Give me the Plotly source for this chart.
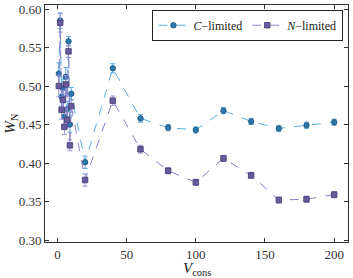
import plotly.graph_objects as go

v_cons = [1, 2, 3, 4, 5, 6, 7, 8, 9, 10, 20, 40, 60, 80, 100, 120, 140, 160, 180, 200]

c_limited = [0.516, 0.585, 0.486, 0.497, 0.460, 0.512, 0.470, 0.558, 0.450, 0.490,
             0.401, 0.523, 0.458, 0.446, 0.443, 0.468, 0.454, 0.445, 0.449, 0.453]
c_err = [0.014, 0.010, 0.012, 0.012, 0.010, 0.012, 0.010, 0.006, 0.010, 0.008,
         0.008, 0.006, 0.005, 0.004, 0.004, 0.004, 0.004, 0.004, 0.004, 0.004]

n_limited = [0.500, 0.582, 0.469, 0.482, 0.447, 0.502, 0.456, 0.545, 0.423, 0.474,
             0.378, 0.481, 0.418, 0.390, 0.375, 0.406, 0.384, 0.352, 0.353, 0.359]
n_err = [0.014, 0.012, 0.012, 0.012, 0.010, 0.012, 0.010, 0.008, 0.007, 0.008,
         0.008, 0.006, 0.005, 0.004, 0.004, 0.004, 0.004, 0.004, 0.004, 0.004]

x_ticks = [0, 50, 100, 150, 200]
y_ticks = [0.30, 0.35, 0.40, 0.45, 0.50, 0.55, 0.60]

FONT = "Liberation Serif"

fig = go.Figure()
fig.add_trace(go.Scatter(
    x=v_cons, y=c_limited, mode="lines+markers",
    name="<i>C</i>\u2212limited",
    line=dict(color="#5aaee0", dash="dash", width=1),
    marker=dict(symbol="circle", size=5.5, color="#2a78ad", line=dict(color="#1d4f73", width=0.8)),
    error_y=dict(type="data", array=c_err, color="#5aaee0", thickness=1, width=2.5),
))
fig.add_trace(go.Scatter(
    x=v_cons, y=n_limited, mode="lines+markers",
    name="<i>N</i>\u2212limited",
    line=dict(color="#8c80cc", dash="dash", width=1),
    marker=dict(symbol="square", size=5.5, color="#6a5a9e", line=dict(color="#433870", width=0.8)),
    error_y=dict(type="data", array=n_err, color="#9a8fd6", thickness=1, width=2.5),
))

axis_common = dict(
    showline=True, linecolor="#333333", linewidth=1, mirror="ticks",
    ticks="inside", ticklen=4, tickcolor="#333333", showgrid=False, zeroline=False,
    tickfont=dict(family=FONT, size=13, color="#333333"), automargin=False,
)
fig.update_xaxes(range=[-9, 210], tickvals=x_ticks, **axis_common)
fig.update_yaxes(range=[0.2975, 0.6052], tickvals=y_ticks, tickformat=".2f", **axis_common)

fig.add_annotation(x=0.5, y=-0.068, xref="paper", yref="paper", xanchor="center", yanchor="top",
                   text="<i>V</i><sub>cons</sub>", showarrow=False,
                   font=dict(family=FONT, size=15, color="#222222"))
fig.add_annotation(x=-0.115, y=0.5, xref="paper", yref="paper", xanchor="center", yanchor="middle",
                   text="<i>W</i><sub>N</sub>", showarrow=False, textangle=-90,
                   font=dict(family=FONT, size=15, color="#222222"))

fig.update_layout(
    width=353, height=278,
    margin=dict(l=45, r=5, t=5, b=36),
    plot_bgcolor="white", paper_bgcolor="white",
    font=dict(family=FONT, color="#222222"),
    legend=dict(x=0.985, y=0.98, xanchor="right", yanchor="top", orientation="h",
                bordercolor="#222222", borderwidth=1, bgcolor="white",
                font=dict(family=FONT, size=12), itemwidth=30, tracegroupgap=0),
    showlegend=True,
)

fig.write_html("out.html", config={"displayModeBar": False},
               post_script="document.body.style.margin='0px';document.body.style.overflow='hidden';")
